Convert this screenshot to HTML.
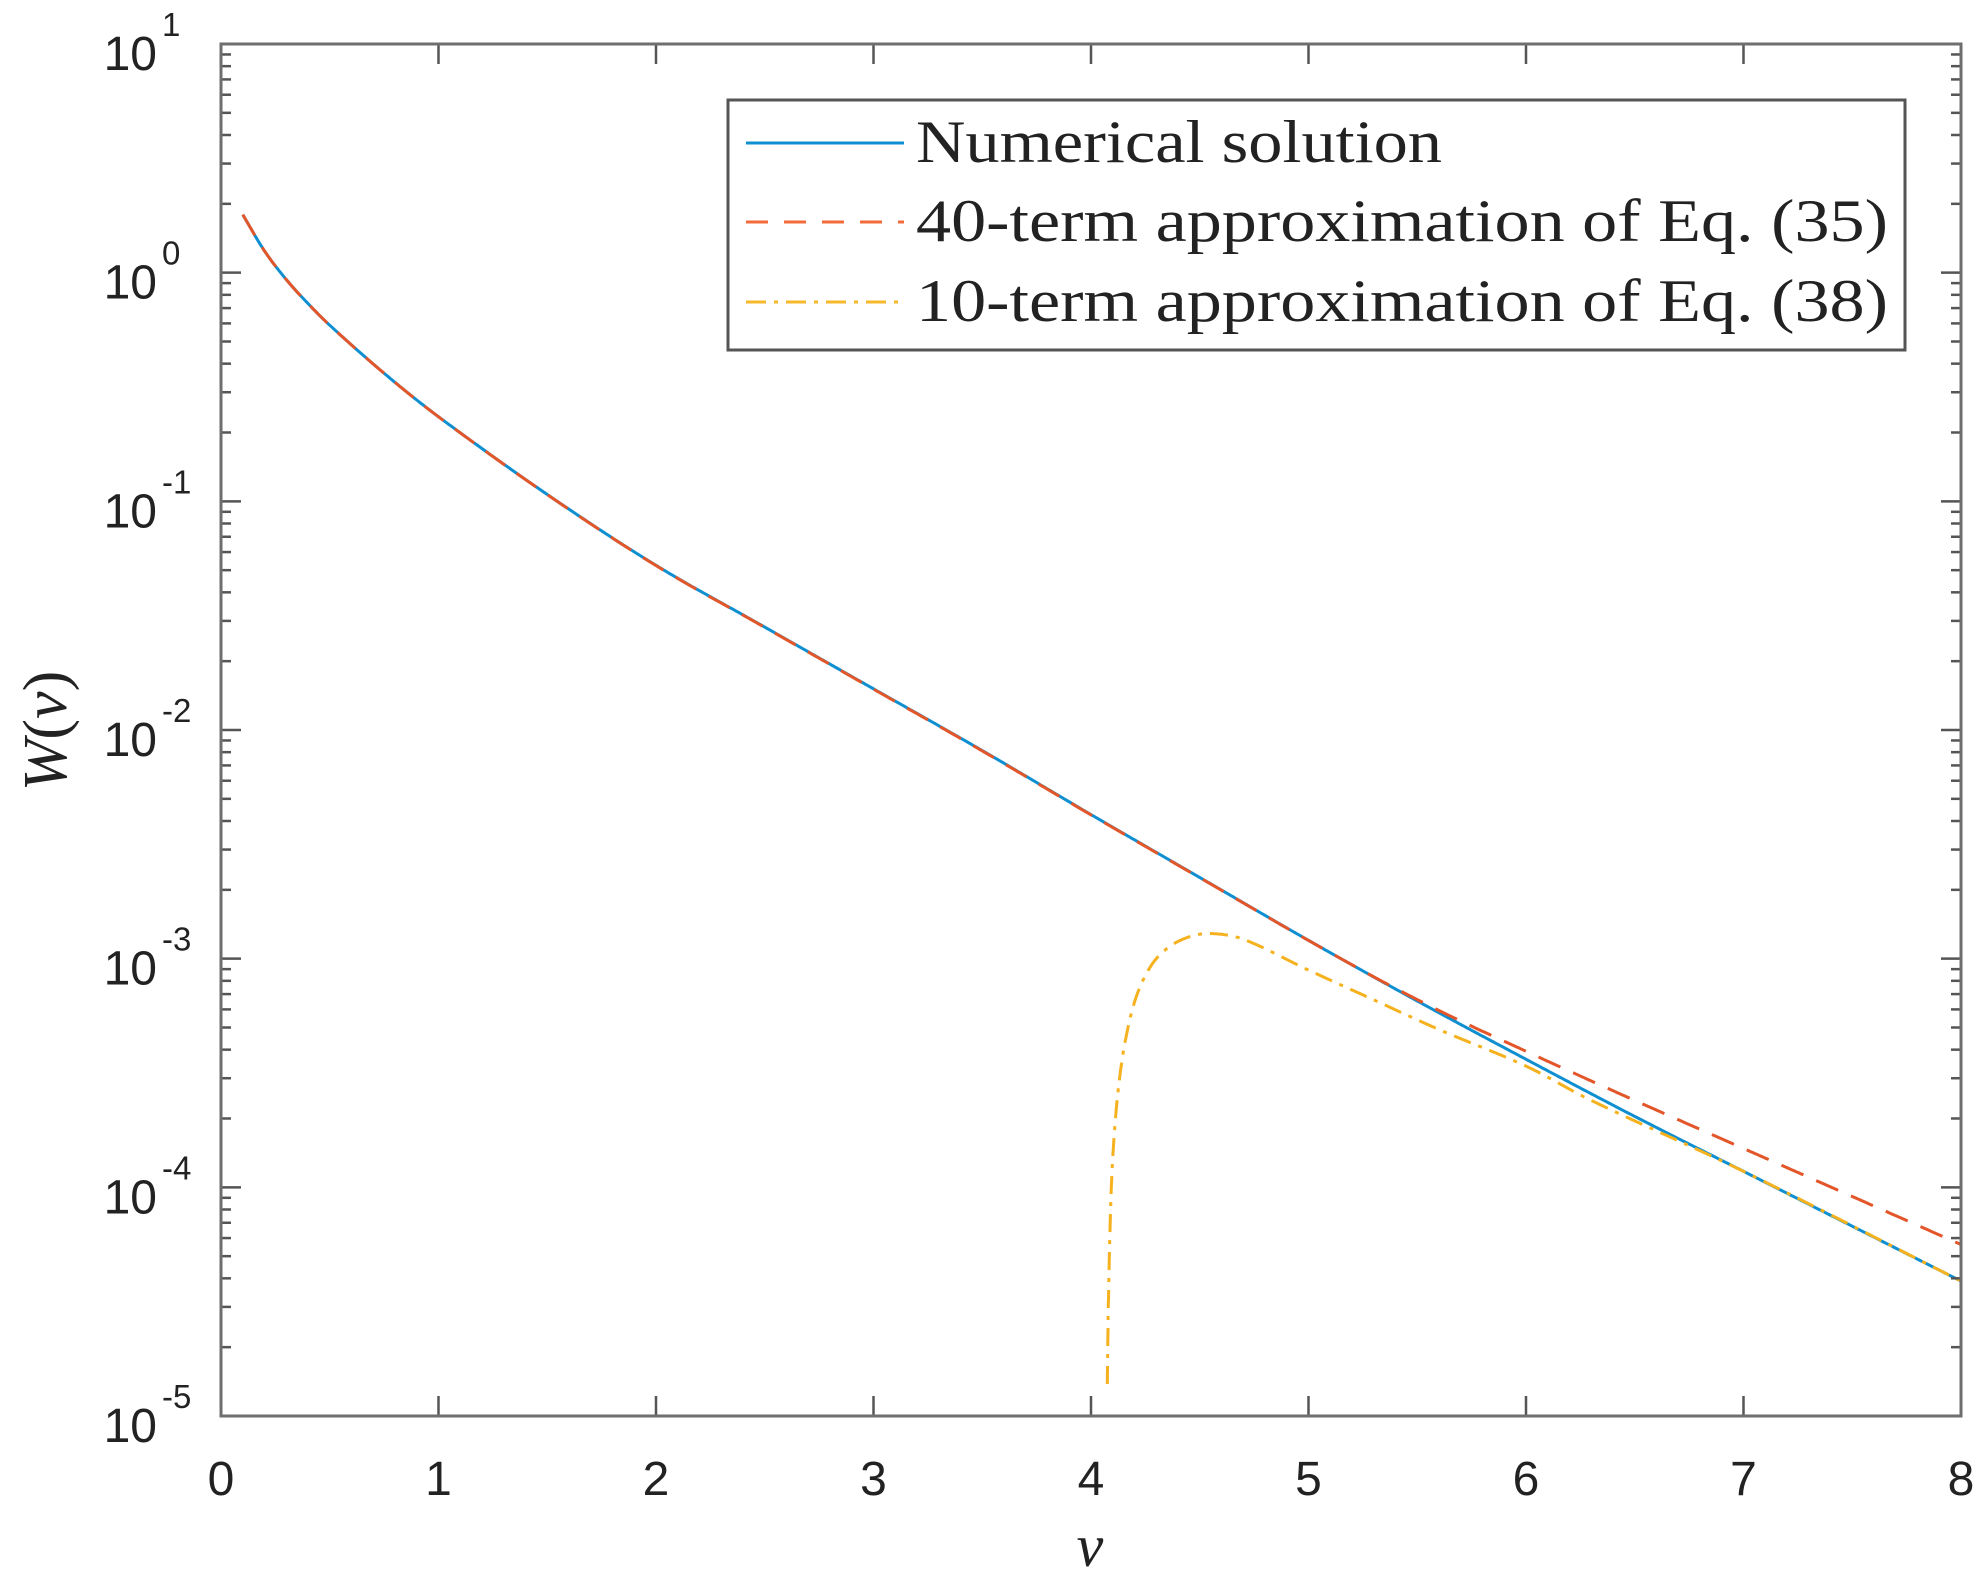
<!DOCTYPE html>
<html><head><meta charset="utf-8"><style>
html,body{margin:0;padding:0;background:#fff;}
svg{display:block;}
</style></head><body>
<svg id="s" width="1983" height="1588" viewBox="0 0 1983 1588" xmlns="http://www.w3.org/2000/svg">
<rect width="1983" height="1588" fill="#fff"/>
<g id="curves"></g>
<g id="ticks" stroke="#555" stroke-width="2.5"></g>
<rect x="221" y="44" width="1740" height="1372" fill="none" stroke="#6e6e6e" stroke-width="3"/>
<g id="labels" font-family="Liberation Sans, sans-serif" fill="#222"></g>
<text x="1090" y="1566" font-family="Liberation Serif, serif" font-style="italic" font-size="60" text-anchor="middle" fill="#222">v</text>
<text transform="translate(66,731) rotate(-90)" font-family="Liberation Serif, serif" font-size="62" text-anchor="middle" fill="#222"><tspan font-style="italic">W</tspan>(<tspan font-style="italic">v</tspan>)</text>
<rect x="728" y="100" width="1177" height="250" fill="#fff" stroke="#555" stroke-width="3"/>
<line x1="746" y1="143" x2="904" y2="143" stroke="#0f8fd0" stroke-width="3"/>
<line x1="746" y1="222" x2="904" y2="222" stroke="#f26b3a" stroke-width="3" stroke-dasharray="22,16"/>
<line x1="746" y1="302" x2="904" y2="302" stroke="#f7b92a" stroke-width="3" stroke-dasharray="20,8,4,8"/>
<g font-family="Liberation Serif, serif" font-size="60" fill="#222">
<text x="916" y="162" textLength="526" lengthAdjust="spacingAndGlyphs">Numerical solution</text>
<text x="916" y="241" textLength="972" lengthAdjust="spacingAndGlyphs">40-term approximation of Eq. (35)</text>
<text x="916" y="321" textLength="972" lengthAdjust="spacingAndGlyphs">10-term approximation of Eq. (38)</text>
</g>
</svg>
<script>
var L=221,R=1961,T=44,B=1416,XU=(R-L)/8,DEC=(B-T)/6;
function X(v){return L+v*XU;}
function Y(lg){return B-(lg+5)*DEC;}
var NS="http://www.w3.org/2000/svg";
function el(p,n,a){var e=document.createElementNS(NS,n);for(var k in a)e.setAttribute(k,a[k]);p.appendChild(e);return e;}
function interp(pts,v){
 for(var i=0;i<pts.length-1;i++){if(v<=pts[i+1][0]){
  var a=pts[Math.max(i-1,0)],b=pts[i],c=pts[i+1],d=pts[Math.min(i+2,pts.length-1)];
  var t=(v-b[0])/(c[0]-b[0]);
  var m1=(c[1]-a[1])/(c[0]-a[0])*(c[0]-b[0]),m2=(d[1]-b[1])/(d[0]-b[0])*(c[0]-b[0]);
  var t2=t*t,t3=t2*t;
  return (2*t3-3*t2+1)*b[1]+(t3-2*t2+t)*m1+(-2*t3+3*t2)*c[1]+(t3-t2)*m2;}}
 return pts[pts.length-1][1];}
function lin(pts,v){for(var i=0;i<pts.length-1;i++){if(v<=pts[i+1][0]){var t=(v-pts[i][0])/(pts[i+1][0]-pts[i][0]);return pts[i][1]+t*(pts[i+1][1]-pts[i][1]);}}return pts[pts.length-1][1];}
var num=[[0.1,0.254],[0.2,0.095],[0.3,-0.03],[0.4,-0.135],[0.5,-0.23],[0.75,-0.44],[1,-0.63],[1.5,-0.97],[2,-1.28],[2.5,-1.55],[3,-1.82],[3.5,-2.09],[4,-2.37],[4.5,-2.645],[5,-2.92],[5.5,-3.185],[6,-3.44],[6.5,-3.69],[7,-3.93],[7.5,-4.17],[8,-4.41]];
var red=[[0,0],[5.2,0],[5.6,0.01],[6,0.035],[6.5,0.07],[7,0.1],[7.5,0.13],[8,0.16]];
var yel=[[4.075,-4.86],[4.08,-4.5],[4.09,-4.1],[4.1,-3.87],[4.12,-3.62],[4.15,-3.4],[4.2,-3.19],[4.27,-3.04],[4.35,-2.955],[4.45,-2.905],[4.55,-2.89],[4.7,-2.915],[5,-3.05],[5.3,-3.18],[5.6,-3.31],[6,-3.47],[6.3,-3.62],[7,-3.93],[8,-4.41]];
var g=document.getElementById('curves');
function path(f,a,b,n){var d="";for(var i=0;i<=n;i++){var v=a+(b-a)*i/n;d+=(i?"L":"M")+X(v).toFixed(1)+","+Y(f(v)).toFixed(1);}return d;}
el(g,"path",{d:path(function(v){return interp(num,v);},0.1,8,800),fill:"none",stroke:"#0f8fd0","stroke-width":3});
el(g,"path",{d:path(function(v){return interp(num,v)+interp(red,v);},0.1,8,800),fill:"none",stroke:"#e3562a","stroke-width":3,"stroke-dasharray":"24,14"});
var d="";var n=0;
for(var i=0;i<=200;i++){var v=4.075+(4.55-4.075)*Math.pow(i/200,2);d+=(n++?"L":"M")+X(v).toFixed(1)+","+Y(interp(yel,v)).toFixed(1);}
for(var i=1;i<=400;i++){var v=4.55+3.45*i/400;d+="L"+X(v).toFixed(1)+","+Y(interp(yel,v)).toFixed(1);}
el(g,"path",{d:d,fill:"none",stroke:"#f5b21e","stroke-width":3,"stroke-dasharray":"18,8,4,8"});
var tk=document.getElementById('ticks'),lb=document.getElementById('labels');
for(var k=0;k<=8;k++){var x=X(k);
 el(tk,"line",{x1:x,y1:B,x2:x,y2:B-20});el(tk,"line",{x1:x,y1:T,x2:x,y2:T+20});
 var t=el(lb,"text",{x:x,y:1495,"font-size":48,"text-anchor":"middle"});t.textContent=k;}
for(var e=-5;e<=1;e++){var y=Y(e);
 el(tk,"line",{x1:L,y1:y,x2:L+20,y2:y});el(tk,"line",{x1:R,y1:y,x2:R-20,y2:y});
 if(e<1)for(var m=2;m<=9;m++){var yy=Y(e+Math.log10(m));
  el(tk,"line",{x1:L,y1:yy,x2:L+10,y2:yy});el(tk,"line",{x1:R,y1:yy,x2:R-10,y2:yy});}
 var t=el(lb,"text",{x:157,y:y+26,"font-size":48,"text-anchor":"end"});t.textContent="10";
 var s=el(lb,"text",{x:162,y:y-8,"font-size":33,"text-anchor":"start"});s.textContent=e;}
</script>
</body></html>
